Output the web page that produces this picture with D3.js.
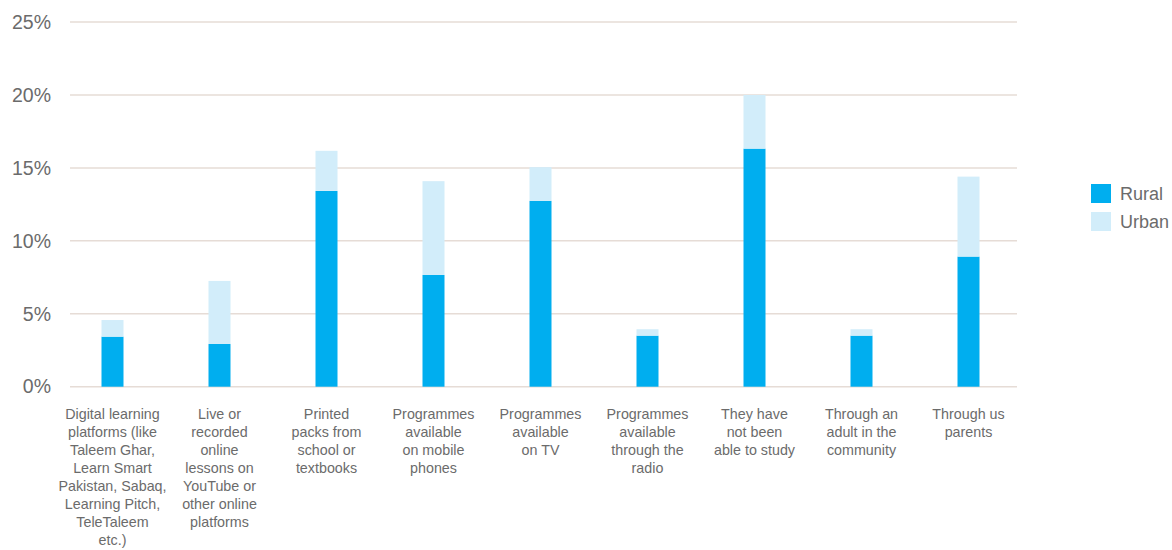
<!DOCTYPE html>
<html>
<head>
<meta charset="utf-8">
<script src="https://cdn.jsdelivr.net/npm/d3@7"></script>
<style>
  body { margin: 0; background: #fff; }
  svg text { font-family: "Liberation Sans", Arial, sans-serif; fill: #6b6b6b; }
</style>
</head>
<body>
<svg id="chart"></svg>
<script>
// categories (one entry per bar, split into label lines)
const categories = [
  ["Digital learning", "platforms (like", "Taleem Ghar,", "Learn Smart", "Pakistan, Sabaq,", "Learning Pitch,", "TeleTaleem", "etc.)"],
  ["Live or", "recorded", "online", "lessons on", "YouTube or", "other online", "platforms"],
  ["Printed", "packs from", "school or", "textbooks"],
  ["Programmes", "available", "on mobile", "phones"],
  ["Programmes", "available", "on TV"],
  ["Programmes", "available", "through the", "radio"],
  ["They have", "not been", "able to study"],
  ["Through an", "adult in the", "community"],
  ["Through us", "parents"]
];
const rural = [3.43, 2.93, 13.42, 7.66, 12.74, 3.5, 16.32, 3.5, 8.92];
const urban = [1.14, 4.32, 2.75, 6.43, 2.31, 0.44, 3.68, 0.44, 5.48];
const seriesNames = ["Rural", "Urban"];
const yTicks = [0, 5, 10, 15, 20, 25];

const width = 1172, height = 550;
const colors = { Rural: "#00aeef", Urban: "#d2edfa" };

const svg = d3.select("#chart").attr("width", width).attr("height", height);

const data = categories.map((c, i) => ({ key: i, Rural: rural[i], Urban: urban[i] }));

const x = d3.scaleBand()
  .domain(d3.range(categories.length))
  .range([59, 1022]);

const y = d3.scaleLinear()
  .domain([0, 25])
  .range([386.7, 22]);

// gridlines
svg.append("g")
  .selectAll("line")
  .data(yTicks)
  .enter()
  .append("line")
  .attr("x1", 70)
  .attr("x2", 1017)
  .attr("y1", d => y(d))
  .attr("y2", d => y(d))
  .attr("stroke", "#e6dcd6")
  .attr("stroke-width", 1.5);

// y axis labels
const yAxis = d3.axisLeft(y)
  .tickValues(yTicks)
  .tickFormat(d => d + "%")
  .tickSize(0)
  .tickPadding(0);

const yg = svg.append("g")
  .attr("transform", "translate(51,0)")
  .call(yAxis);
yg.select(".domain").remove();
yg.selectAll("text")
  .attr("font-size", 19.5)
  .attr("fill", "#6b6b6b")
  .style("font-family", "'Liberation Sans', Arial, sans-serif");

// stacked bars
const stack = d3.stack().keys(seriesNames);
const layers = stack(data);
const barW = 22;

svg.append("g")
  .selectAll("g")
  .data(layers)
  .enter()
  .append("g")
  .attr("fill", d => colors[d.key])
  .selectAll("rect")
  .data(d => d)
  .enter()
  .append("rect")
  .attr("x", d => x(d.data.key) + x.bandwidth() / 2 - barW / 2)
  .attr("width", barW)
  .attr("y", d => y(d[1]))
  .attr("height", d => y(d[0]) - y(d[1]));

// x labels
const xl = svg.append("g")
  .selectAll("text")
  .data(categories)
  .enter()
  .append("text")
  .attr("x", (d, i) => x(i) + x.bandwidth() / 2)
  .attr("y", 419)
  .attr("text-anchor", "middle")
  .attr("font-size", 14.3);

xl.selectAll("tspan")
  .data(d => d)
  .enter()
  .append("tspan")
  .attr("x", function () { return d3.select(this.parentNode).attr("x"); })
  .attr("dy", (d, i) => i === 0 ? 0 : 18)
  .text(d => d);

// legend
const legend = svg.append("g").attr("transform", "translate(1091,184)");
const li = legend.selectAll("g")
  .data(seriesNames)
  .enter()
  .append("g")
  .attr("transform", (d, i) => `translate(0, ${i * 28})`);
li.append("rect")
  .attr("width", 20)
  .attr("height", 19)
  .attr("fill", d => colors[d]);
li.append("text")
  .attr("x", 29)
  .attr("y", 16)
  .attr("font-size", 18)
  .text(d => d);
</script>
</body>
</html>
